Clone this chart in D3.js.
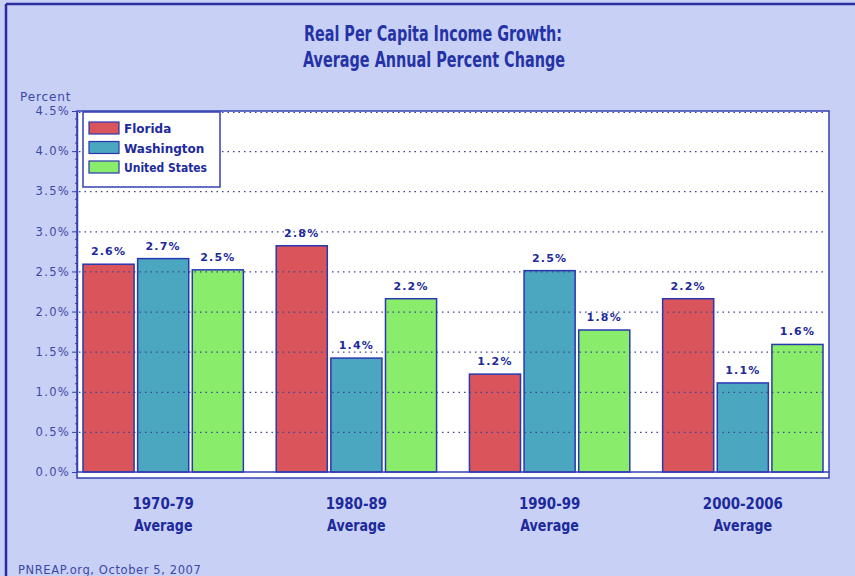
<!DOCTYPE html>
<html>
<head>
<meta charset="utf-8">
<script src="https://cdn.jsdelivr.net/npm/d3@7"></script>
<style>
  body { margin: 0; background: #c9d0f5; }
  svg { display: block; }
</style>
</head>
<body>
<div id="chart-area"></div>
<script>
// data
var periods = ["1970-79", "1980-89", "1990-99", "2000-2006"];
var seriesNames = ["Florida", "Washington", "United States"];
var florida = [2.59, 2.82, 1.22, 2.16];
var washington = [2.66, 1.42, 2.51, 1.11];
var unitedStates = [2.52, 2.16, 1.77, 1.59];
var valueLabels = [
  ["2.6%", "2.8%", "1.2%", "2.2%"],
  ["2.7%", "1.4%", "2.5%", "1.1%"],
  ["2.5%", "2.2%", "1.8%", "1.6%"]
];
var yTicks = [0, 0.5, 1.0, 1.5, 2.0, 2.5, 3.0, 3.5, 4.0, 4.5];
var colors = ["#d9555b", "#4aa7bf", "#89ec6b"];

var allSeries = [florida, washington, unitedStates];
var navy = "#1c2a9c";
var condensed = "'Liberation Sans Narrow', 'DejaVu Sans Condensed', sans-serif";
var verdanaish = "'DejaVu Sans', Verdana, sans-serif";

var svg = d3.select("#chart-area").append("svg")
  .attr("width", 855)
  .attr("height", 576);

svg.append("rect").attr("width", 855).attr("height", 576).attr("fill", "#c9d0f5");
// outer border (top and left visible)
svg.append("line").attr("x1", 6).attr("x2", 855).attr("y1", 4).attr("y2", 4)
  .attr("stroke", "#2a2f9e").attr("stroke-width", 2.5);
svg.append("line").attr("x1", 6).attr("x2", 6).attr("y1", 4).attr("y2", 576)
  .attr("stroke", "#2a2f9e").attr("stroke-width", 2.5);

// title, squeezed to the narrow look of the original
svg.append("text").attr("x", 433).attr("y", 41).attr("text-anchor", "middle")
  .attr("font-family", condensed).attr("font-weight", "bold").attr("font-size", 21)
  .attr("textLength", 258).attr("lengthAdjust", "spacingAndGlyphs")
  .attr("fill", "#2433a6").text("Real Per Capita Income Growth:");
svg.append("text").attr("x", 434).attr("y", 67).attr("text-anchor", "middle")
  .attr("font-family", condensed).attr("font-weight", "bold").attr("font-size", 21)
  .attr("textLength", 262).attr("lengthAdjust", "spacingAndGlyphs")
  .attr("fill", "#2433a6").text("Average Annual Percent Change");

var plotLeft = 77, plotRight = 829, plotTop = 111, zeroY = 472, plotBottom = 478;

var y = d3.scaleLinear().domain([0, 4.5]).range([zeroY, plotTop]);
var x = d3.scaleBand().domain(periods).range([83, 823]).paddingInner(0.17).paddingOuter(0);
var xi = d3.scaleBand().domain(seriesNames).range([0, x.bandwidth()]).paddingInner(0.065);

// plot frame
svg.append("rect").attr("x", plotLeft).attr("y", plotTop)
  .attr("width", plotRight - plotLeft).attr("height", plotBottom - plotTop)
  .attr("fill", "#ffffff").attr("stroke", "#3340b0").attr("stroke-width", 1.5);

// bars
seriesNames.forEach(function(name, s) {
  svg.append("g").selectAll("rect")
    .data(allSeries[s])
    .join("rect")
    .attr("x", function(d, i) { return x(periods[i]) + xi(name); })
    .attr("y", function(d) { return y(d); })
    .attr("width", xi.bandwidth())
    .attr("height", function(d) { return zeroY - y(d); })
    .attr("fill", colors[s])
    .attr("stroke", "#2a38b0")
    .attr("stroke-width", 1.5);
});

// dotted grid lines over bars
svg.append("g").selectAll("line")
  .data(yTicks.filter(function(t) { return t > 0; }))
  .join("line")
  .attr("x1", plotLeft + 2).attr("x2", plotRight - 2)
  .attr("y1", function(d) { return y(d) + (d === 4.5 ? 1.5 : 0.5); })
  .attr("y2", function(d) { return y(d) + (d === 4.5 ? 1.5 : 0.5); })
  .attr("stroke", "#3a4390").attr("stroke-width", 1.2)
  .attr("stroke-dasharray", "1.5,4");

// zero line
svg.append("line").attr("x1", plotLeft).attr("x2", plotRight).attr("y1", zeroY).attr("y2", zeroY)
  .attr("stroke", "#3340b0").attr("stroke-width", 1.5);

// y axis
var yAxis = d3.axisLeft(y).tickValues(yTicks).tickSizeInner(5).tickSizeOuter(0).tickPadding(2)
  .tickFormat(function(d) { return d.toFixed(1) + "%"; });
var yg = svg.append("g").attr("transform", "translate(" + plotLeft + ",0)").call(yAxis);
yg.select(".domain").attr("stroke", "#3340b0").attr("stroke-width", 1.5);
yg.selectAll(".tick line").attr("stroke", "#3340b0");
yg.selectAll(".tick text").attr("font-family", verdanaish)
  .attr("font-size", 11.5).attr("fill", "#3b48a8").attr("letter-spacing", 1.3);

// minor ticks
var minor = d3.range(0, 45).filter(function(v) { return v % 5 !== 0; }).map(function(v) { return v / 10; });
svg.append("g").selectAll("line").data(minor).join("line")
  .attr("x1", plotLeft - 2).attr("x2", plotLeft)
  .attr("y1", function(d) { return y(d); }).attr("y2", function(d) { return y(d); })
  .attr("stroke", "#3340b0").attr("stroke-width", 1);

svg.append("text").attr("x", 20).attr("y", 101)
  .attr("font-family", verdanaish).attr("font-size", 12).attr("letter-spacing", 0.9)
  .attr("fill", "#3b48a8").text("Percent");

// value labels
seriesNames.forEach(function(name, s) {
  svg.append("g").selectAll("text")
    .data(allSeries[s])
    .join("text")
    .attr("x", function(d, i) { return x(periods[i]) + xi(name) + xi.bandwidth() / 2; })
    .attr("y", function(d) { return y(d) - 9; })
    .attr("text-anchor", "middle")
    .attr("font-family", verdanaish)
    .attr("font-weight", "bold").attr("font-size", 11).attr("letter-spacing", 1.2)
    .attr("fill", navy)
    .text(function(d, i) { return valueLabels[s][i]; });
});

// category labels
var cat = svg.append("g").selectAll("g").data(periods).join("g")
  .attr("transform", function(d) { return "translate(" + (x(d) + x.bandwidth() / 2) + ",0)"; });
cat.append("text").attr("y", 509).attr("text-anchor", "middle")
  .attr("font-family", condensed).attr("font-weight", "bold").attr("font-size", 16)
  .attr("transform", "scale(0.93,1)")
  .attr("fill", navy).text(function(d) { return d; });
cat.append("text").attr("y", 531).attr("text-anchor", "middle")
  .attr("font-family", condensed).attr("font-weight", "bold").attr("font-size", 16)
  .attr("transform", "scale(0.88,1)")
  .attr("fill", navy).text("Average");

// legend
var legend = svg.append("g");
legend.append("rect").attr("x", 83).attr("y", 112).attr("width", 137).attr("height", 75)
  .attr("fill", "#ffffff").attr("stroke", "#3340b0").attr("stroke-width", 1.5);
seriesNames.forEach(function(name, s) {
  legend.append("rect").attr("x", 89).attr("y", 122 + s * 19.5).attr("width", 30).attr("height", 12)
    .attr("fill", colors[s]).attr("stroke", "#2a38b0").attr("stroke-width", 1.2);
  legend.append("text").attr("x", 124).attr("y", 133 + s * 19.5)
    .attr("font-family", verdanaish).attr("font-weight", "bold")
    .attr("font-size", 12).attr("fill", navy)
    .attr("textLength", s === 2 ? 83 : null).attr("lengthAdjust", "spacingAndGlyphs")
    .text(name);
});

// footer
svg.append("text").attr("x", 18).attr("y", 574)
  .attr("font-family", verdanaish).attr("font-size", 11.5)
  .attr("letter-spacing", 0.6)
  .attr("fill", "#3b48a8").text("PNREAP.org, October 5, 2007");
</script>
</body>
</html>
